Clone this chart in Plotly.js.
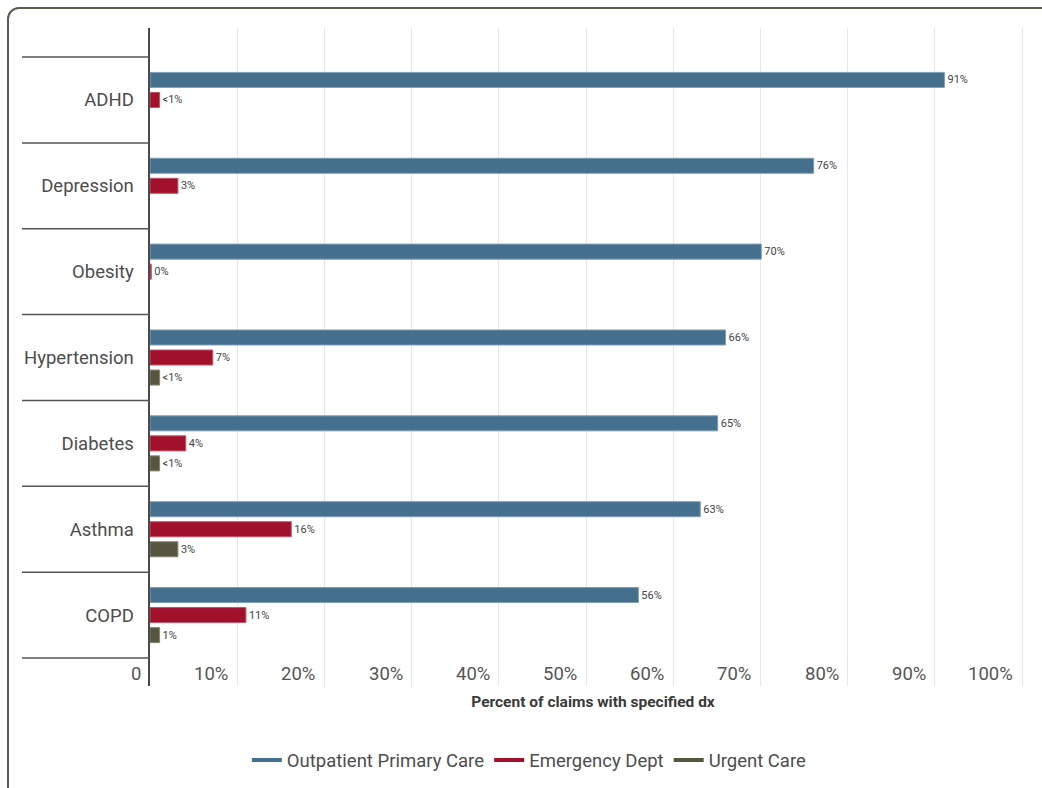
<!DOCTYPE html>
<html>
<head>
<meta charset="utf-8">
<script src="https://cdn.plot.ly/plotly-3.0.1.min.js"></script>
<style>
  html, body { margin: 0; padding: 0; background: #ffffff; overflow: hidden; }
  #chart { width: 1042px; height: 788px; position: relative; }
  #frame { position: absolute; left: 7px; top: 7px; width: 1100px; height: 900px;
           border: 2px solid #5c5c50; border-radius: 12px; pointer-events: none; box-sizing: border-box; }
</style>
</head>
<body>
<div id="chart"></div>
<div id="frame"></div>
<script>
const categories = ["ADHD", "Depression", "Obesity", "Hypertension", "Diabetes", "Asthma", "COPD"];

const outpatientValues = [91.1, 76.1, 70.1, 66.0, 65.1, 63.1, 56.0];
const outpatientLabels = ["91%", "76%", "70%", "66%", "65%", "63%", "56%"];

const emergencyValues = [1.1, 3.2, 0.15, 7.2, 4.1, 16.2, 11.0];
const emergencyLabels = ["<1%", "3%", "0%", "7%", "4%", "16%", "11%"];

const urgentValues = [null, null, null, 1.1, 1.1, 3.2, 1.1];
const urgentLabels = ["", "", "", "<1%", "<1%", "3%", "1%"];

const seriesNames = ["Outpatient Primary Care", "Emergency Dept", "Urgent Care"];
const seriesColors = ["#44708e", "#a1112c", "#56553f"];
const seriesOutline = ["#7f9db3", "#c25567", "#86856f"];

const tickValues = [0, 10, 20, 30, 40, 50, 60, 70, 80, 90, 100];
const tickLabels = ["0", "10%", "20%", "30%", "40%", "50%", "60%", "70%", "80%", "90%", "100%"];

const FONT = "Roboto, 'Noto Sans', sans-serif";

const valueSets = [outpatientValues, emergencyValues, urgentValues];
const labelSets = [outpatientLabels, emergencyLabels, urgentLabels];

const traces = [];
for (let i = 0; i < 3; i++) {
  traces.push({
    type: "bar",
    orientation: "h",
    name: seriesNames[i],
    y: categories,
    x: valueSets[i],
    text: labelSets[i],
    textposition: "outside",
    cliponaxis: false,
    constraintext: "none",
    textfont: { family: FONT, size: 11, color: "#444444" },
    marker: { color: seriesColors[i], line: { color: seriesOutline[i], width: 1 } },
    showlegend: false,
    hoverinfo: "skip"
  });
}
for (let i = 0; i < 3; i++) {
  traces.push({
    type: "scatter",
    mode: "lines",
    name: seriesNames[i],
    x: [null],
    y: [null],
    line: { color: seriesColors[i], width: 4 },
    showlegend: true,
    hoverinfo: "skip"
  });
}

// category separators (boundaries between categories)
const shapes = [];
for (let k = 0; k <= categories.length; k++) {
  shapes.push({
    type: "line", xref: "paper", yref: "y",
    x0: -0.1445, x1: 0, y0: k - 0.5, y1: k - 0.5,
    line: { color: "#555555", width: 1.5 }
  });
}

// x tick labels, right-aligned to each gridline, just above the bottom edge
const annotations = tickValues.map((v, i) => ({
  x: v, xref: "x", y: 0, yref: "paper",
  text: tickLabels[i],
  showarrow: false,
  xanchor: "right", yanchor: "bottom",
  xshift: -7, yshift: -1,
  font: { family: FONT, size: 18.5, color: "#555555" }
}));

const layout = {
  width: 1042,
  height: 788,
  margin: { l: 150, r: 6, t: 28, b: 102 },
  paper_bgcolor: "rgba(0,0,0,0)",
  plot_bgcolor: "#ffffff",
  font: { family: FONT, color: "#444444" },
  barmode: "group",
  bargap: 0.30,
  bargroupgap: 0.25,
  showlegend: true,
  legend: {
    orientation: "h",
    xref: "container", yref: "container",
    x: 0.508, xanchor: "center",
    y: 0.035, yanchor: "middle",
    font: { family: FONT, size: 18.5, color: "#4d4d4d" },
    traceorder: "normal"
  },
  xaxis: {
    range: [0, 101.6],
    tickvals: tickValues,
    showticklabels: false,
    ticks: "",
    showgrid: true,
    gridcolor: "#e6e6e6",
    gridwidth: 1,
    zeroline: false,
    showline: false,
    title: {
      text: "<b>Percent of claims with specified dx</b>",
      font: { family: FONT, size: 15.5, color: "#3a3a3a" },
      standoff: 10
    },
    fixedrange: true
  },
  yaxis: {
    type: "category",
    categoryorder: "array",
    categoryarray: categories,
    range: [6.826, -0.838],
    showgrid: false,
    zeroline: false,
    showline: true,
    linecolor: "#4a4a4a",
    linewidth: 2.5,
    ticks: "",
    ticklabelstandoff: 10,
    tickfont: { family: FONT, size: 18.5, color: "#4d4d4d" },
    fixedrange: true
  },
  shapes: shapes,
  annotations: annotations
};

Plotly.newPlot("chart", traces, layout, { displayModeBar: false, staticPlot: true });
</script>
</body>
</html>
